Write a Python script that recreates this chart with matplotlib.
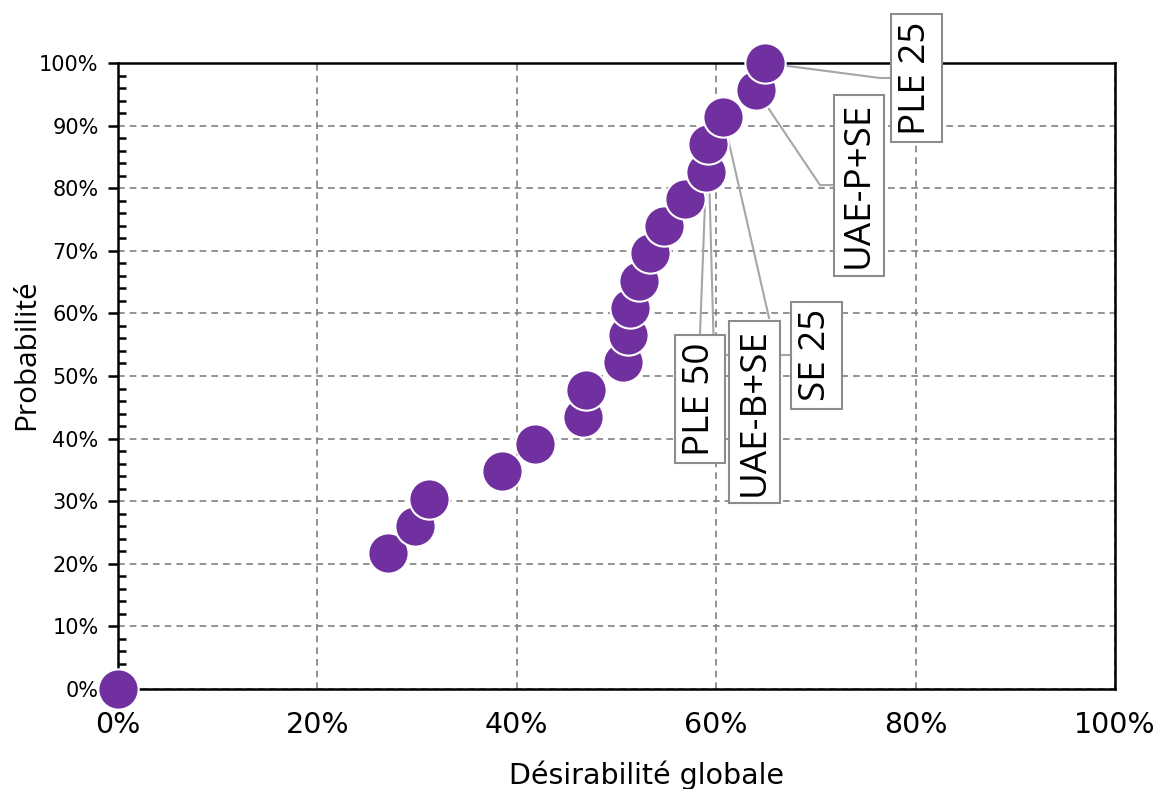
import matplotlib
matplotlib.use("Agg")
import matplotlib.pyplot as plt
from matplotlib.ticker import MultipleLocator, PercentFormatter

# Data
desirabilite = [0.0, 0.271, 0.298, 0.312, 0.385, 0.418, 0.466, 0.469, 0.507, 0.512,
                0.514, 0.523, 0.534, 0.548, 0.569, 0.590, 0.592, 0.607, 0.640, 0.649]
probabilite = [0.0, 0.217, 0.261, 0.304, 0.348, 0.391, 0.435, 0.478, 0.522, 0.565,
               0.609, 0.652, 0.696, 0.739, 0.783, 0.826, 0.870, 0.913, 0.957, 1.0]
labels = {15: "PLE 50", 16: "SE 25", 17: "UAE-B+SE", 18: "UAE-P+SE", 19: "PLE 25"}
x_ticks = [0, 0.2, 0.4, 0.6, 0.8, 1.0]
y_ticks = [0, 0.1, 0.2, 0.3, 0.4, 0.5, 0.6, 0.7, 0.8, 0.9, 1.0]

# label placement (layout): text center, leader path
label_layout = {
    19: dict(xy=(0.8009, 0.976), path=[(0.7643, 0.976), (0.7753, 0.976)]),
    18: dict(xy=(0.7432, 0.805), path=[(0.7041, 0.805), (0.7161, 0.805)]),
    16: dict(xy=(0.7006, 0.5335), path=[(0.5978, 0.5335), (0.674, 0.5335)]),
    17: dict(xy=(0.6384, 0.4425), path=[(0.653, 0.5927)]),
    15: dict(xy=(0.5837, 0.4633), path=[(0.5837, 0.5655)]),
}

fig = plt.figure(figsize=(11.56, 7.89), dpi=100)
ax = fig.add_axes([118/1156, 1 - 689/789, (1115-118)/1156, (689-63)/789])

ax.set_xlim(0, 1)
ax.set_ylim(0, 1)
ax.set_xticks(x_ticks)
ax.set_yticks(y_ticks)
ax.yaxis.set_minor_locator(MultipleLocator(0.02))
ax.xaxis.set_major_formatter(PercentFormatter(1.0, decimals=0))
ax.yaxis.set_major_formatter(PercentFormatter(1.0, decimals=0))

ax.grid(True, which="major", color="#808080", linestyle=(0, (4, 3)), linewidth=1.2, zorder=0)
ax.set_axisbelow(True)
for s in ax.spines.values():
    s.set_color("black")
    s.set_linewidth(1.8)
    s.set_zorder(1)

ax.tick_params(axis="y", which="major", direction="out", length=7, width=1.8,
               labelsize=15, pad=7)
ax.tick_params(axis="y", which="minor", direction="in", length=6, width=1.8)
ax.tick_params(axis="x", which="major", length=0, labelsize=20.5, pad=16)

# leader lines
for i, lay in label_layout.items():
    xs = [desirabilite[i]] + [p[0] for p in lay["path"]]
    ys = [probabilite[i]] + [p[1] for p in lay["path"]]
    ax.plot(xs, ys, color="#A6A6A6", linewidth=1.5, zorder=3, clip_on=False)

# points
for xv, yv in zip(desirabilite, probabilite):
    ax.plot(xv, yv, marker="o", markersize=29, color="#7030A0",
            markeredgecolor="white", markeredgewidth=1.5, linestyle="none",
            zorder=4, clip_on=False)

# labels
for i, lay in label_layout.items():
    ax.text(lay["xy"][0], lay["xy"][1], labels[i], rotation=90, ha="center", va="center",
            fontsize=26.5, family=["Open Sans", "DejaVu Sans"], zorder=6,
            bbox=dict(boxstyle="square,pad=0.2", facecolor="white",
                      edgecolor="#8C8C8C", linewidth=1.5))

ax.set_xlabel("Désirabilité globale", fontsize=20.5)
ax.xaxis.set_label_coords(0.53, -0.137)
ax.xaxis.label.set_va("center")
ax.set_ylabel("Probabilité", fontsize=21.5, family=["Open Sans", "DejaVu Sans"])
ax.yaxis.set_label_coords(-0.092, 0.534)
ax.yaxis.label.set_va("center")

fig.savefig("out.png", dpi=100)
